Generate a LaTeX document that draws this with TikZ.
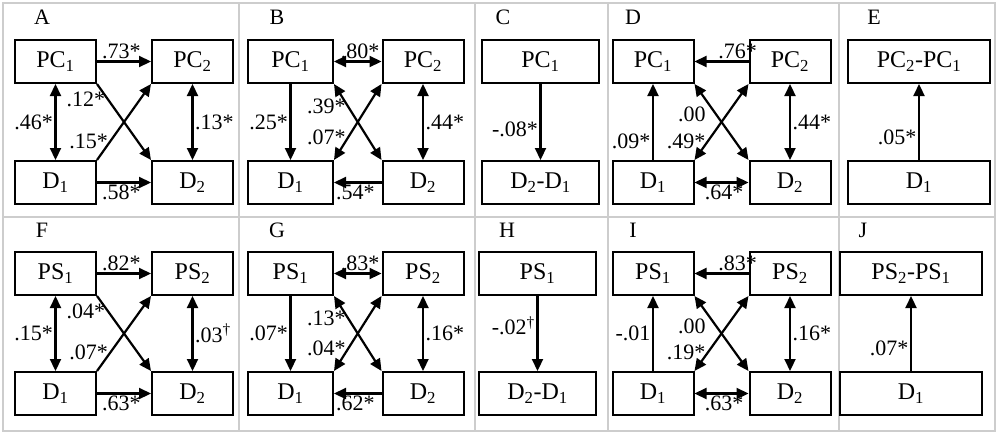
\documentclass[tikz,border=0pt]{standalone}
\usepackage{fontspec}
\setmainfont{Liberation Serif}
\usetikzlibrary{arrows.meta}
\newcommand{\sub}[1]{\textsubscript{#1}}
\newcommand{\dg}{\textsuperscript{\dag}}
\definecolor{panelgray}{RGB}{205,205,205}

\begin{document}
\begin{tikzpicture}[x=1pt,y=-1pt,line width=2.2pt,
    box/.style={draw,line width=2pt,minimum width=81pt,minimum height=43pt,
                inner sep=0pt,font=\fontsize{24}{26}\selectfont},
    wbox/.style={box,minimum width=117pt},
    xbox/.style={box,minimum width=142pt},
    val/.style={font=\fontsize{22}{24}\selectfont,inner sep=1.5pt},
    tag/.style={font=\fontsize{22}{24}\selectfont},
    arr/.style={-{Triangle[length=12pt,width=11pt]}},
    biarr/.style={{Triangle[length=12pt,width=11pt]}-{Triangle[length=12pt,width=11pt]}}]
  \useasboundingbox (0,0) rectangle (998,434);

  % panel frames
  \draw[panelgray,line width=2pt] (3,3) rectangle (995,431) (3,217) -- (995,217);
  \foreach \x in {239,475,608,839}
    \draw[panelgray,line width=2pt] (\x,3) -- (\x,431);

  % row 1
  \node[tag] (lA) at (42,17) {A};
  \node[box] (A1) at (55.5,61.5) {PC\sub{1}};
  \node[box] (A2) at (192.5,61.5) {PC\sub{2}};
  \node[box] (A3) at (55.5,182.5) {D\sub{1}};
  \node[box] (A4) at (192.5,182.5) {D\sub{2}};
  \draw[arr] (A1) -- node[val,above,pos=.45] {.73*} (A2);
  \draw[arr] (A3) -- node[val,below,pos=.45] {.58*} (A4);
  \draw[biarr] (A1) -- node[val,left] {.46*} (A3);
  \draw[biarr] (A2) -- node[val,right] {.13*} (A4);
  \draw[arr] (A1.south east) -- node[val,left,pos=.2] {.12*} (A4.north west);
  \draw[arr] (A3.north east) -- node[val,left,pos=.25] {.15*} (A2.south west);

  \node[tag] (lB) at (277,17) {B};
  \node[box,minimum width=85pt] (B1) at (290.5,61.5) {PC\sub{1}};
  \node[box] (B2) at (423,61.5) {PC\sub{2}};
  \node[box,minimum width=85pt] (B3) at (290.5,182.5) {D\sub{1}};
  \node[box] (B4) at (423,182.5) {D\sub{2}};
  \draw[biarr] (B1) -- node[val,above,pos=.55] {.80*} (B2);
  \draw[arr] (B4) -- node[val,below,pos=.55] {.54*} (B3);
  \draw[arr] (B1) -- node[val,left] {.25*} (B3);
  \draw[biarr] (B2) -- node[val,right] {.44*} (B4);
  \draw[biarr] (B1.south east) -- node[val,left,pos=.3] {.39*} (B4.north west);
  \draw[biarr] (B3.north east) -- node[val,left,pos=.3] {.07*} (B2.south west);

  \node[tag] (lC) at (503,17) {C};
  \node[wbox] (C1) at (540.5,61.5) {PC\sub{1}};
  \node[wbox] (C2) at (540.5,182.5) {D\sub{2}-D\sub{1}};
  \draw[arr] (C1) -- node[val,left,pos=.6] {-.08*} (C2);

  \node[tag] (lD) at (633,17) {D};
  \node[box] (D1) at (653,61.5) {PC\sub{1}};
  \node[box] (D2) at (790,61.5) {PC\sub{2}};
  \node[box] (D3) at (653,182.5) {D\sub{1}};
  \node[box] (D4) at (790,182.5) {D\sub{2}};
  \draw[arr] (D2) -- node[val,above,pos=.2] {.76*} (D1);
  \draw[biarr] (D3) -- node[val,below,pos=.55] {.64*} (D4);
  \draw[arr] (D3) -- node[val,left,pos=.25] {.09*} (D1);
  \draw[biarr] (D2) -- node[val,right] {.44*} (D4);
  \draw[biarr] (D1.south east) -- node[val,left=8pt,pos=.4] {.00} (D4.north west);
  \draw[biarr] (D3.north east) -- node[val,left,pos=.25] {.49*} (D2.south west);

  \node[tag] (lE) at (874,17) {E};
  \node[xbox] (E1) at (919,61.5) {PC\sub{2}-PC\sub{1}};
  \node[xbox] (E2) at (919,182.5) {D\sub{1}};
  \draw[arr] (E2) -- node[val,left,pos=.3] {.05*} (E1);

  % row 2
  \node[tag] (lF) at (42,230) {F};
  \node[box] (F1) at (55.5,273.5) {PS\sub{1}};
  \node[box] (F2) at (192.5,273.5) {PS\sub{2}};
  \node[box] (F3) at (55.5,393.5) {D\sub{1}};
  \node[box] (F4) at (192.5,393.5) {D\sub{2}};
  \draw[arr] (F1) -- node[val,above,pos=.45] {.82*} (F2);
  \draw[arr] (F3) -- node[val,below,pos=.45] {.63*} (F4);
  \draw[biarr] (F1) -- node[val,left] {.15*} (F3);
  \draw[biarr] (F2) -- node[val,right] {.03\dg} (F4);
  \draw[arr] (F1.south east) -- node[val,left,pos=.2] {.04*} (F4.north west);
  \draw[arr] (F3.north east) -- node[val,left,pos=.25] {.07*} (F2.south west);

  \node[tag] (lG) at (277,230) {G};
  \node[box,minimum width=85pt] (G1) at (290.5,273.5) {PS\sub{1}};
  \node[box] (G2) at (423,273.5) {PS\sub{2}};
  \node[box,minimum width=85pt] (G3) at (290.5,393.5) {D\sub{1}};
  \node[box] (G4) at (423,393.5) {D\sub{2}};
  \draw[biarr] (G1) -- node[val,above,pos=.55] {.83*} (G2);
  \draw[arr] (G4) -- node[val,below,pos=.55] {.62*} (G3);
  \draw[arr] (G1) -- node[val,left] {.07*} (G3);
  \draw[biarr] (G2) -- node[val,right] {.16*} (G4);
  \draw[biarr] (G1.south east) -- node[val,left,pos=.3] {.13*} (G4.north west);
  \draw[biarr] (G3.north east) -- node[val,left,pos=.3] {.04*} (G2.south west);

  \node[tag] (lH) at (507,230) {H};
  \node[wbox] (H1) at (537.5,273.5) {PS\sub{1}};
  \node[wbox] (H2) at (537.5,393.5) {D\sub{2}-D\sub{1}};
  \draw[arr] (H1) -- node[val,left,pos=.4] {-.02\dg} (H2);

  \node[tag] (lI) at (633,230) {I};
  \node[box] (I1) at (653,273.5) {PS\sub{1}};
  \node[box] (I2) at (790,273.5) {PS\sub{2}};
  \node[box] (I3) at (653,393.5) {D\sub{1}};
  \node[box] (I4) at (790,393.5) {D\sub{2}};
  \draw[arr] (I2) -- node[val,above,pos=.2] {.83*} (I1);
  \draw[biarr] (I3) -- node[val,below,pos=.55] {.63*} (I4);
  \draw[arr] (I3) -- node[val,left,pos=.5] {-.01} (I1);
  \draw[biarr] (I2) -- node[val,right] {.16*} (I4);
  \draw[biarr] (I1.south east) -- node[val,left=8pt,pos=.4] {.00} (I4.north west);
  \draw[biarr] (I3.north east) -- node[val,left,pos=.25] {.19*} (I2.south west);

  \node[tag] (lJ) at (863,230) {J};
  \node[xbox] (J1) at (911,273.5) {PS\sub{2}-PS\sub{1}};
  \node[xbox] (J2) at (911,393.5) {D\sub{1}};
  \draw[arr] (J2) -- node[val,left,pos=.3] {.07*} (J1);
\end{tikzpicture}
\end{document}
